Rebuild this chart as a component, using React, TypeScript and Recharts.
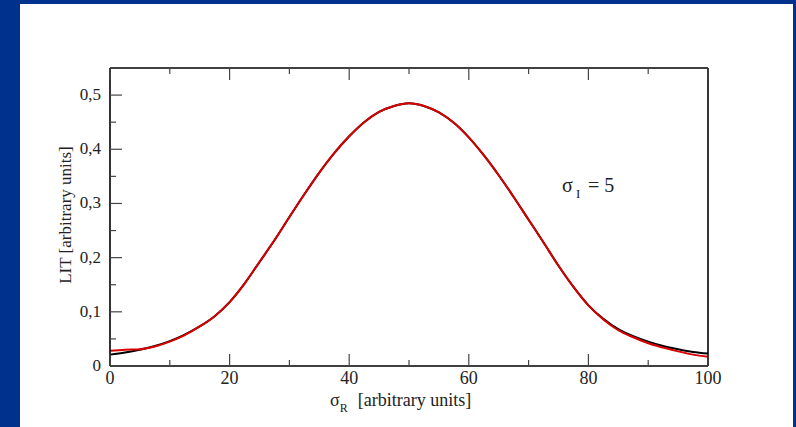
import { Line, LineChart, XAxis, YAxis } from 'recharts';

// sigma_R sampling (arbitrary units)
const sigmaR = [
  0, 2.5, 5, 7.5, 10, 12.5, 15, 17.5, 20, 22.5, 25, 27.5, 30, 32.5, 35, 37.5, 40, 42.5, 45, 47.5,
  50, 52.5, 55, 57.5, 60, 62.5, 65, 67.5, 70, 72.5, 75, 77.5, 80, 82.5, 85, 87.5, 90, 92.5, 95,
  97.5, 100,
];

// LIT, black curve
const litBlack = [
  0.021, 0.025, 0.03, 0.037, 0.046, 0.058, 0.073, 0.092, 0.118, 0.152, 0.192, 0.232, 0.275, 0.317,
  0.357, 0.393, 0.424, 0.45, 0.469, 0.48, 0.485, 0.48, 0.468, 0.449, 0.422, 0.389, 0.352, 0.312,
  0.27, 0.228, 0.185, 0.146, 0.112, 0.087, 0.068, 0.055, 0.045, 0.037, 0.031, 0.026, 0.023,
];

// LIT, red curve
const litRed = [
  0.028, 0.03, 0.031, 0.036, 0.045, 0.057, 0.073, 0.092, 0.118, 0.152, 0.192, 0.232, 0.275, 0.317,
  0.357, 0.393, 0.424, 0.45, 0.469, 0.48, 0.485, 0.48, 0.468, 0.449, 0.422, 0.389, 0.352, 0.312,
  0.27, 0.228, 0.185, 0.146, 0.112, 0.086, 0.066, 0.053, 0.042, 0.034, 0.027, 0.021, 0.017,
];

const xTicks = [0, 10, 20, 30, 40, 50, 60, 70, 80, 90, 100];
const yTicks = [0, 0.05, 0.1, 0.15, 0.2, 0.25, 0.3, 0.35, 0.4, 0.45, 0.5];

const data = sigmaR.map((s, i) => ({ s, black: litBlack[i], red: litRed[i] }));

const W = 796;
const H = 427;
const SERIF = '"Liberation Serif", "Times New Roman", serif';

type Side = 'left' | 'right' | 'top' | 'bottom';

// ticks point into the frame; majors are longer and (on left/bottom) labelled
function FrameTick(props: any) {
  const { x, y, payload, side } = props as { x: number; y: number; payload: { value: number }; side: Side };
  const v = payload.value;
  const horizontal = side === 'top' || side === 'bottom';
  const major = horizontal ? v % 20 === 0 : Math.round(v * 100) % 10 === 0;
  const len = major ? 12 : 6;
  let line;
  if (side === 'left') line = <line x1={x} x2={x + len} y1={y} y2={y} />;
  else if (side === 'right') line = <line x1={x - len} x2={x} y1={y} y2={y} />;
  else if (side === 'bottom') line = <line x1={x} x2={x} y1={y - len} y2={y} />;
  else line = <line x1={x} x2={x} y1={y} y2={y + len} />;

  let label = null;
  if (major && side === 'left') {
    const txt = v === 0 ? '0' : v.toFixed(1).replace('.', ',');
    label = (
      <text x={x - 9} y={y + 5} textAnchor="end" fontFamily={SERIF} fontSize={17} fill="#222" stroke="none">
        {txt}
      </text>
    );
  } else if (major && side === 'bottom') {
    label = (
      <text x={x} y={y + 18} textAnchor="middle" fontFamily={SERIF} fontSize={18} fill="#222" stroke="none">
        {v}
      </text>
    );
  }
  return (
    <g stroke="#444" strokeWidth={1.2}>
      {line}
      {label}
    </g>
  );
}

const frame = { stroke: '#000', strokeWidth: 1.6 };

export default function App() {
  return (
    <div style={{ position: 'fixed', left: 0, top: 0, width: W, height: H, background: '#00318c', overflow: 'hidden' }}>
      <div style={{ position: 'absolute', left: 20, top: 4, width: 773, height: 423, background: '#fff' }} />
      <div style={{ position: 'absolute', left: 0, top: 0 }}>
        <LineChart width={W} height={H} data={data} margin={{ top: 67, right: 87, bottom: 60, left: 109 }}>
          <XAxis
            xAxisId="bottom"
            dataKey="s"
            type="number"
            domain={[0, 100]}
            ticks={xTicks}
            interval={0}
            height={1}
            tickSize={0}
            tickMargin={0}
            tickLine={false}
            axisLine={frame}
            tick={(p: any) => <FrameTick {...p} side="bottom" />}
          />
          <XAxis
            xAxisId="top"
            orientation="top"
            dataKey="s"
            type="number"
            domain={[0, 100]}
            ticks={xTicks}
            interval={0}
            height={1}
            tickSize={0}
            tickMargin={0}
            tickLine={false}
            axisLine={frame}
            tick={(p: any) => <FrameTick {...p} side="top" />}
          />
          <YAxis
            yAxisId="left"
            type="number"
            domain={[0, 0.55]}
            ticks={yTicks}
            interval={0}
            width={1}
            tickSize={0}
            tickMargin={0}
            tickLine={false}
            axisLine={frame}
            tick={(p: any) => <FrameTick {...p} side="left" />}
          />
          <YAxis
            yAxisId="right"
            orientation="right"
            type="number"
            domain={[0, 0.55]}
            ticks={yTicks}
            interval={0}
            width={1}
            tickSize={0}
            tickMargin={0}
            tickLine={false}
            axisLine={frame}
            tick={(p: any) => <FrameTick {...p} side="right" />}
          />
          <Line
            xAxisId="bottom"
            yAxisId="left"
            type="monotone"
            dataKey="black"
            stroke="#000"
            strokeWidth={2}
            dot={false}
            isAnimationActive={false}
          />
          <Line
            xAxisId="bottom"
            yAxisId="left"
            type="monotone"
            dataKey="red"
            stroke="#d80000"
            strokeWidth={2}
            dot={false}
            isAnimationActive={false}
          />
        </LineChart>
      </div>
      {/* axis titles and the sigma_I annotation */}
      <svg width={W} height={H} style={{ position: 'absolute', left: 0, top: 0, pointerEvents: 'none' }}>
        <text
          transform="translate(71 215) rotate(-90)"
          textAnchor="middle"
          fontFamily={SERIF}
          fontSize={17}
          fill="#222"
        >
          LIT [arbitrary units]
        </text>
        <text x={330} y={406} fontFamily={SERIF} fontSize={18} fill="#222">
          σ
          <tspan fontSize={12} dy={6}>R</tspan>
          <tspan dy={-6} dx={10}>[arbitrary units]</tspan>
        </text>
        <text x={562} y={192} fontFamily={SERIF} fontSize={20} fill="#222">
          σ
        </text>
        <text x={576} y={198} fontFamily={SERIF} fontSize={13} fill="#222">
          I
        </text>
        <text x={588} y={192} fontFamily={SERIF} fontSize={20} fill="#222">
          = 5
        </text>
      </svg>
    </div>
  );
}
